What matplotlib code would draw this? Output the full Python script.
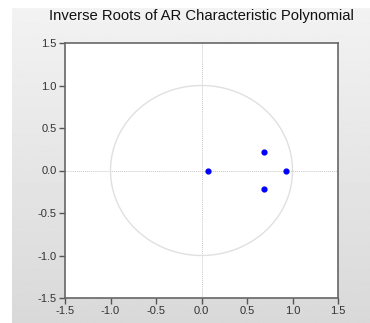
import numpy as np
import matplotlib.pyplot as plt

# inverse roots (real, imaginary)
root_re = [0.07, 0.69, 0.69, 0.93]
root_im = [0.0, 0.22, -0.22, 0.0]
ticks = [-1.5, -1.0, -0.5, 0.0, 0.5, 1.0, 1.5]
title = "Inverse Roots of AR Characteristic Polynomial"

plt.rcParams['font.family'] = ['Liberation Sans', 'DejaVu Sans']

W, H = 370, 323
fig = plt.figure(figsize=(W / 100, H / 100), dpi=100)
fig.patch.set_facecolor("white")

# grey gradient panel behind the chart
bg = fig.add_axes([12 / W, 0, 1 - 12 / W, 1 - 8 / H])
grad = np.linspace(0.95, 0.85, 256).reshape(-1, 1)
bg.imshow(grad, aspect="auto", cmap="gray", vmin=0, vmax=1, extent=[0, 1, 0, 1])
bg.set_axis_off()

ax = fig.add_axes([65 / W, (H - 298) / H, 273 / W, 255 / H])
ax.set_facecolor("white")

t = np.linspace(0, 2 * np.pi, 400)
ax.plot(np.cos(t), np.sin(t), color="#e0e0e0", lw=1.0, zorder=1)
ax.axhline(0, color="#c8c8c8", lw=0.7, ls=(0, (1, 1)), zorder=0)
ax.axvline(0, color="#c8c8c8", lw=0.7, ls=(0, (1, 1)), zorder=0)
ax.scatter(root_re, root_im, s=12, color="#0000ff", zorder=3)

ax.set_xlim(-1.5, 1.5)
ax.set_ylim(-1.5, 1.5)
ax.set_xticks(ticks)
ax.set_yticks(ticks)
ax.set_xticklabels([f"{v:.1f}" for v in ticks])
ax.set_yticklabels([f"{v:.1f}" for v in ticks])
ax.tick_params(direction="out", length=4, width=1, color="#555555",
               labelsize=8, labelcolor="#333333", pad=2)
for s in ax.spines.values():
    s.set_color("#666666")
    s.set_linewidth(1.2)

fig.text(201 / W, 1 - 16 / H, title, ha="center", va="center",
         fontsize=10.7, color="#111111")

fig.savefig("out.png", dpi=100)
